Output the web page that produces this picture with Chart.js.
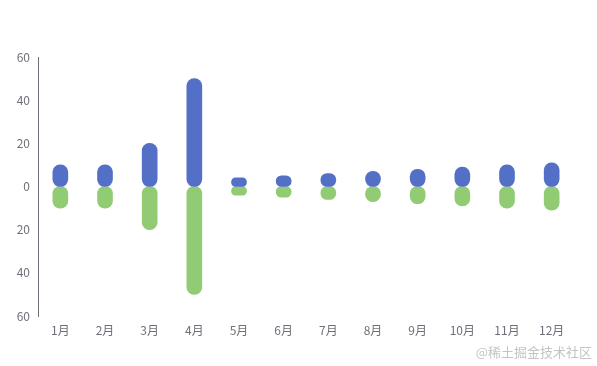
<!DOCTYPE html>
<html>
<head>
<meta charset="utf-8">
<script src="https://cdn.jsdelivr.net/npm/chart.js@4/dist/chart.umd.min.js"></script>
<style>
    html, body { margin: 0; padding: 0; background: #fff; }
    #wrap { position: relative; width: 597px; height: 366px; }
    #mark {
        position: absolute; right: 5px; bottom: 5px;
        font: 13px "Noto Sans CJK SC", sans-serif;
        color: #c4c4c4;
    }
</style>
</head>
<body>
<div id="wrap">
    <canvas id="chart" width="597" height="366"></canvas>
    <div id="mark">@稀土掘金技术社区</div>
</div>
<script>
const months = ["1月", "2月", "3月", "4月", "5月", "6月", "7月", "8月", "9月", "10月", "11月", "12月"];
const upValues = [10, 10, 20, 50, 4, 5, 6, 7, 8, 9, 10, 11];
const downValues = [-10, -10, -20, -50, -4, -5, -6, -7, -8, -9, -10, -11];
const yTicks = [-60, -40, -20, 0, 20, 40, 60];

const axisColor = "#6e7079";
const pill = { topLeft: 20, topRight: 20, bottomLeft: 20, bottomRight: 20 };

const ctx = document.getElementById("chart").getContext("2d");

new Chart(ctx, {
    type: "bar",
    data: {
        labels: months,
        datasets: [
            {
                label: "up",
                data: upValues,
                backgroundColor: "#5470c6",
                borderRadius: pill,
                borderSkipped: false,
                barThickness: 15
            },
            {
                label: "down",
                data: downValues,
                backgroundColor: "#91cc75",
                borderRadius: pill,
                borderSkipped: false,
                barThickness: 15
            }
        ]
    },
    options: {
        responsive: false,
        animation: false,
        layout: { padding: { top: 57, right: 23, left: 0, bottom: 0 } },
        plugins: {
            legend: { display: false },
            tooltip: { enabled: false }
        },
        scales: {
            x: {
                stacked: true,
                grid: { display: false, drawTicks: false },
                border: { display: false },
                ticks: {
                    color: axisColor,
                    padding: 7,
                    font: { size: 12, family: "'Noto Sans CJK SC', sans-serif" }
                },
                afterFit: scale => { scale.height = 50; }
            },
            y: {
                stacked: true,
                min: -60,
                max: 60,
                afterBuildTicks: scale => {
                    scale.ticks = yTicks.map(v => ({ value: v }));
                },
                grid: { display: false, drawTicks: false },
                border: { display: true, color: axisColor, width: 1 },
                ticks: {
                    color: axisColor,
                    padding: 8,
                    font: { size: 12, family: "'Noto Sans CJK SC', sans-serif" },
                    callback: v => Math.abs(v)
                },
                afterFit: scale => { scale.width = 38; }
            }
        }
    }
});
</script>
</body>
</html>
